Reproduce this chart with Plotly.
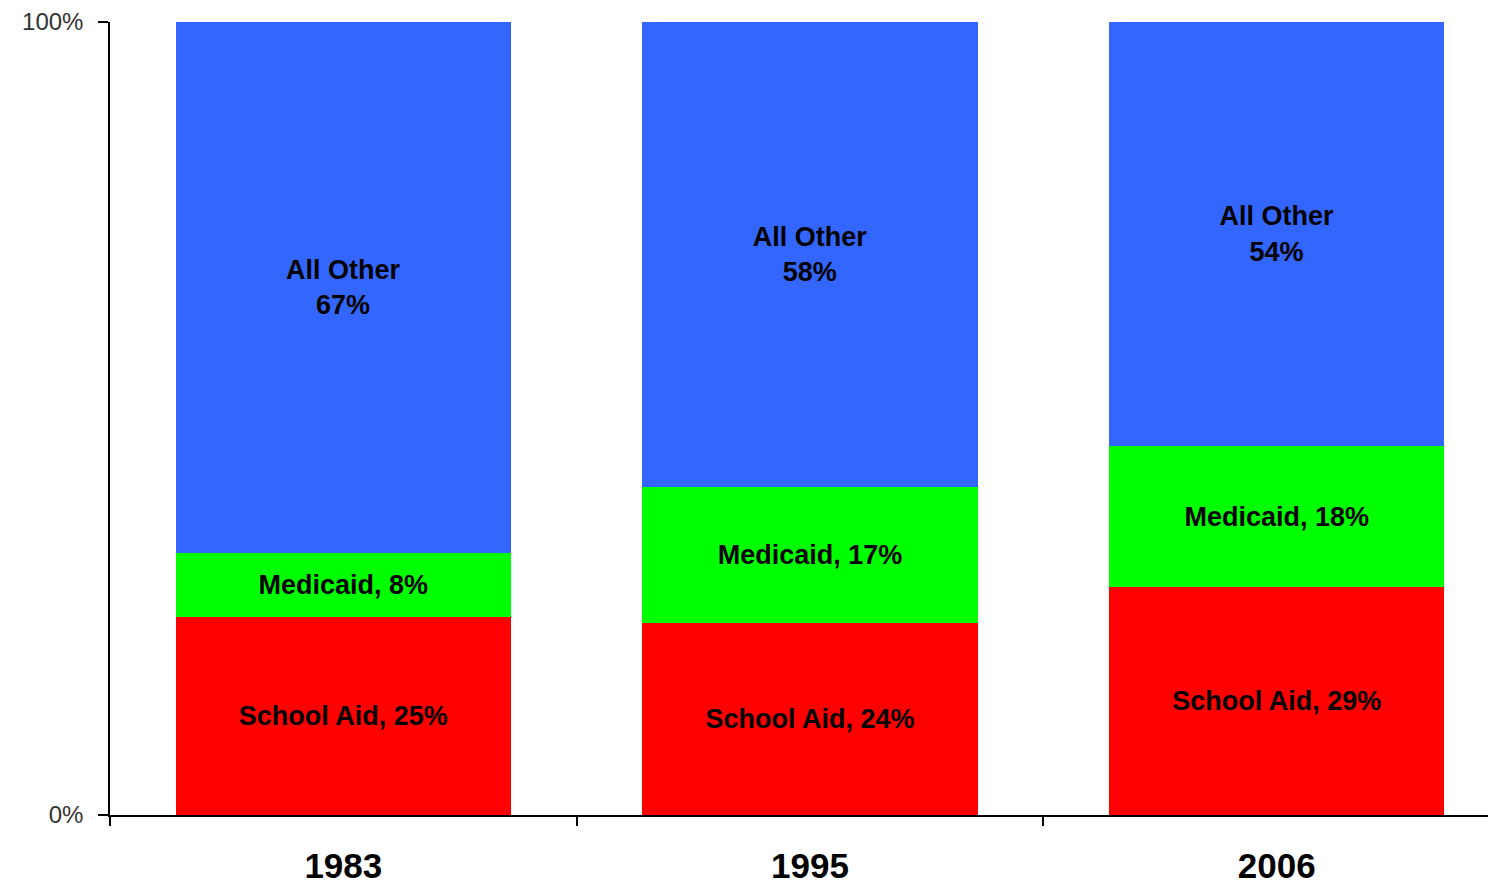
import plotly.graph_objects as go

years = ["1983", "1995", "2006"]
school_aid = [25, 24, 29]
medicaid = [8, 17, 18]
all_other = [67, 58, 54]

series = [
    ("School Aid", school_aid, "#FF0000", "{name}, {v}%"),
    ("Medicaid", medicaid, "#00FF00", "{name}, {v}%"),
    ("All Other", all_other, "#3366FF", "{name}<br>{v}%"),
]

fig = go.Figure()
for name, vals, color, fmt in series:
    fig.add_trace(go.Bar(
        x=years, y=vals, name=name,
        marker=dict(color=color, line=dict(width=0)),
        text=[fmt.format(name=name, v=v) for v in vals],
        textposition="inside", insidetextanchor="middle",
        textfont=dict(family="Liberation Sans", size=27, color="black", weight="bold"),
        hoverinfo="skip",
    ))

fig.update_layout(
    width=1496, height=883,
    margin=dict(l=102, r=8, t=14, b=76),
    barmode="stack", barnorm="percent", bargap=0.282,
    paper_bgcolor="white", plot_bgcolor="white",
    showlegend=False,
    font=dict(family="Liberation Sans"),
)
fig.update_xaxes(
    type="category", range=[-0.5, 2.47], automargin=False,
    showline=True, linecolor="black", linewidth=1.5,
    ticks="outside", tickson="boundaries", ticklen=9, tickwidth=1.5, tickcolor="black",
    tickfont=dict(family="Liberation Sans", size=35, color="black", weight="bold"),
    ticklabelstandoff=19,
    showgrid=False,
)
fig.update_yaxes(
    range=[0, 100], tickvals=[0, 100], ticktext=["0%", "100%"], automargin=False,
    showline=True, linecolor="black", linewidth=1.5,
    ticks="outside", ticklen=10, tickwidth=1.5, tickcolor="black",
    tickfont=dict(family="Liberation Sans", size=24, color="#333333"),
    ticklabelstandoff=10, ticklabeloverflow="allow",
    showgrid=False, zeroline=False,
)

fig.write_html("out.html")
